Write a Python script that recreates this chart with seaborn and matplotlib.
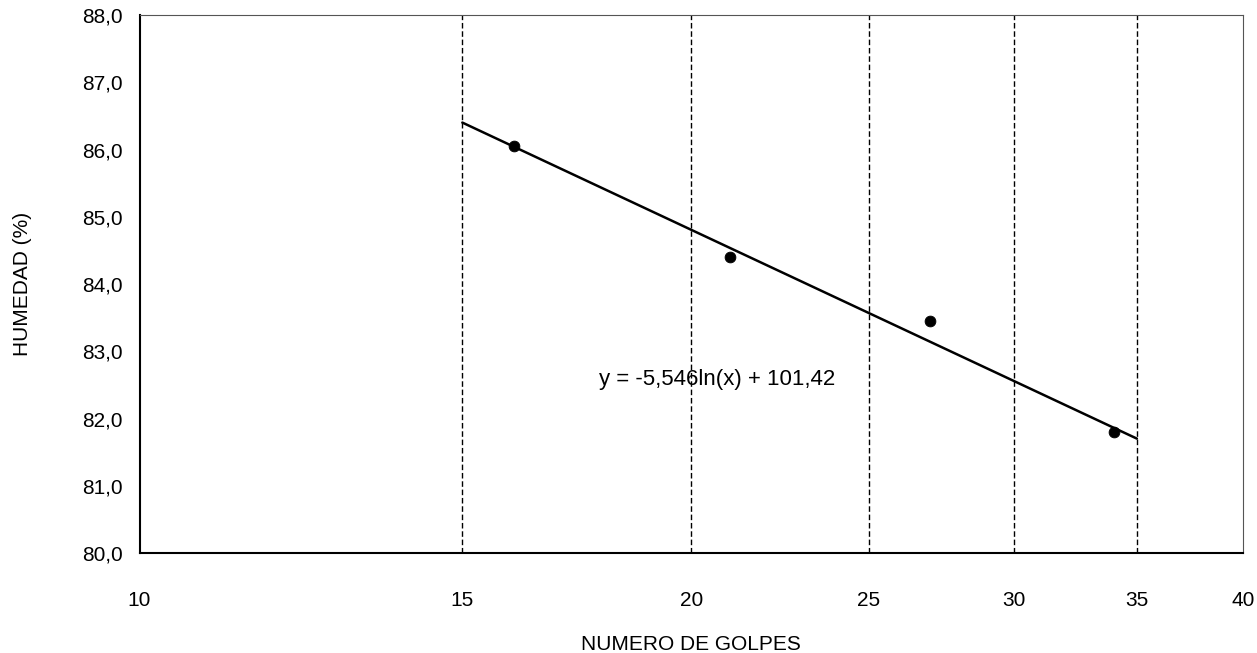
import numpy as np
import pandas as pd
import matplotlib
matplotlib.use('Agg')
import matplotlib.pyplot as plt
import seaborn as sns
from matplotlib.ticker import FixedLocator, NullLocator, FuncFormatter

# Data
golpes = [16, 21, 27, 34]
humedad = [86.05, 84.4, 83.45, 81.8]

# Log trendline printed on the chart: y = a*ln(x) + b
coef_a = -5.546
coef_b = 101.42
trend_x = [15, 35]
equation_label = 'y = -5,546ln(x) + 101,42'

x_ticks = [10, 15, 20, 25, 30, 35, 40]
y_ticks = [80, 81, 82, 83, 84, 85, 86, 87, 88]
grid_x = [15, 20, 25, 30, 35]

sns.set_style('white')
plt.rcParams['font.family'] = ['Liberation Sans', 'DejaVu Sans']
plt.rcParams['text.color'] = 'black'
plt.rcParams['axes.labelcolor'] = 'black'
plt.rcParams['xtick.color'] = 'black'
plt.rcParams['ytick.color'] = 'black'

points_df = pd.DataFrame({'golpes': golpes, 'humedad': humedad})
trend_df = pd.DataFrame({'golpes': trend_x,
                         'humedad': [coef_a * np.log(x) + coef_b for x in trend_x]})

fig = plt.figure(figsize=(12.57, 6.53), dpi=100)
ax = fig.add_axes([0.111, 0.153, 0.878, 0.824])

# vertical dashed lines
for gx in grid_x:
    ax.axvline(gx, color='black', linestyle=(0, (4, 2)), linewidth=1.0, zorder=1)

sns.lineplot(data=trend_df, x='golpes', y='humedad', color='black',
             linewidth=1.8, ax=ax, zorder=3)
sns.scatterplot(data=points_df, x='golpes', y='humedad', color='black',
                s=60, edgecolor='black', ax=ax, zorder=4)

ax.set_xscale('log')
ax.set_xlim(10, 40)
ax.set_ylim(80, 88)
ax.xaxis.set_major_locator(FixedLocator(x_ticks))
ax.xaxis.set_minor_locator(NullLocator())
ax.xaxis.set_major_formatter(FuncFormatter(lambda v, p: f'{v:.0f}'))
ax.yaxis.set_major_locator(FixedLocator(y_ticks))
ax.yaxis.set_major_formatter(FuncFormatter(lambda v, p: f'{v:.1f}'.replace('.', ',')))

ax.tick_params(axis='y', direction='out', length=5, width=1, labelsize=15, pad=7)
ax.tick_params(axis='x', direction='in', length=5, width=1, labelsize=15, pad=27)

ax.text(17.8, 82.58, equation_label, fontsize=16, va='center', ha='left', zorder=5)

ax.set_xlabel('NUMERO DE GOLPES', fontsize=15, labelpad=18)
ax.set_ylabel('HUMEDAD (%)', fontsize=15, labelpad=36)

for side in ['top', 'right']:
    ax.spines[side].set_color('#555555')
    ax.spines[side].set_linewidth(0.8)
for side in ['left', 'bottom']:
    ax.spines[side].set_color('black')
    ax.spines[side].set_linewidth(1.5)

fig.savefig('out.png', dpi=100)
